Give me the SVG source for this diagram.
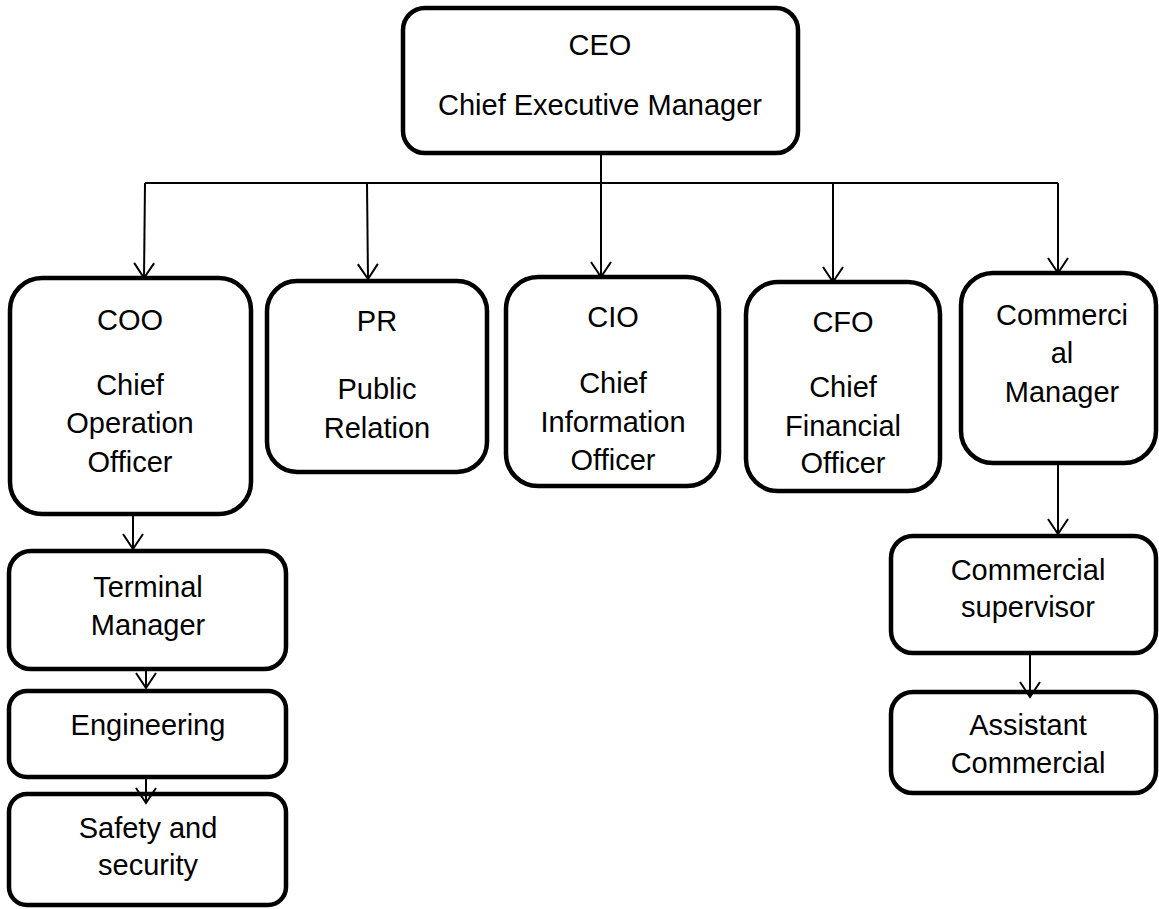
<svg xmlns="http://www.w3.org/2000/svg" width="1159" height="909" viewBox="0 0 1159 909">
<style>
.box{fill:#fff;stroke:#000;stroke-width:4.5}
.t{font-family:"Liberation Sans",Arial,sans-serif;font-size:29px;fill:#000;text-anchor:middle}
.c{fill:none;stroke:#000;stroke-width:2}
</style>
<defs>
<marker id="arr" markerUnits="userSpaceOnUse" markerWidth="30" markerHeight="30" viewBox="-20 -15 30 30" refX="0" refY="0" orient="auto" overflow="visible">
<path d="M-15,-10 L0,0 L-15,10" fill="none" stroke="#000" stroke-width="2"/>
</marker>
</defs>
<rect width="1159" height="909" fill="#fff"/>
<g id="ceo">
<rect class="box" x="403" y="8" width="395" height="145" rx="22"/>
<text class="t" x="600" y="55">CEO</text>
<text class="t" x="600" y="115">Chief Executive Manager</text>
</g>
<g id="coo">
<rect class="box" x="10" y="278" width="241" height="236" rx="32"/>
<text class="t" x="130" y="330">COO</text>
<text class="t" x="130" y="395">Chief</text>
<text class="t" x="130" y="433">Operation</text>
<text class="t" x="130" y="472">Officer</text>
</g>
<g id="pr">
<rect class="box" x="267" y="281" width="220" height="191" rx="30"/>
<text class="t" x="377" y="331">PR</text>
<text class="t" x="377" y="399">Public</text>
<text class="t" x="377" y="438">Relation</text>
</g>
<g id="cio">
<rect class="box" x="506" y="277" width="213" height="209" rx="32"/>
<text class="t" x="613" y="327">CIO</text>
<text class="t" x="613" y="393">Chief</text>
<text class="t" x="613" y="432">Information</text>
<text class="t" x="613" y="470">Officer</text>
</g>
<g id="cfo">
<rect class="box" x="746" y="282" width="194" height="209" rx="32"/>
<text class="t" x="843" y="332">CFO</text>
<text class="t" x="843" y="397">Chief</text>
<text class="t" x="843" y="436">Financial</text>
<text class="t" x="843" y="473">Officer</text>
</g>
<g id="commercial-manager">
<rect class="box" x="961" y="273" width="195" height="190" rx="32"/>
<text class="t" x="1062" y="325">Commerci</text>
<text class="t" x="1062" y="363">al</text>
<text class="t" x="1062" y="402">Manager</text>
</g>
<g id="terminal-manager">
<rect class="box" x="9" y="551" width="277" height="118" rx="22"/>
<text class="t" x="148" y="597">Terminal</text>
<text class="t" x="148" y="635">Manager</text>
</g>
<g id="engineering">
<rect class="box" x="9" y="691" width="277" height="86" rx="18"/>
<text class="t" x="148" y="735">Engineering</text>
</g>
<g id="safety">
<rect class="box" x="9" y="794" width="277" height="111" rx="18"/>
<text class="t" x="148" y="838">Safety and</text>
<text class="t" x="148" y="875">security</text>
</g>
<g id="commercial-supervisor">
<rect class="box" x="891" y="536" width="265" height="117" rx="22"/>
<text class="t" x="1028" y="580">Commercial</text>
<text class="t" x="1028" y="617">supervisor</text>
</g>
<g id="assistant-commercial">
<rect class="box" x="891" y="692" width="265" height="101" rx="22"/>
<text class="t" x="1028" y="735">Assistant</text>
<text class="t" x="1028" y="773">Commercial</text>
</g>
<g id="connectors">
<path class="c" d="M145,183 H1058"/>
<path class="c" d="M601,155 V183"/>
<path class="c" d="M145,183 L144,278" marker-end="url(#arr)"/>
<path class="c" d="M367,183 L368,279" marker-end="url(#arr)"/>
<path class="c" d="M601,183 V277" marker-end="url(#arr)"/>
<path class="c" d="M833,183 V282" marker-end="url(#arr)"/>
<path class="c" d="M1058,183 V273" marker-end="url(#arr)"/>
<path class="c" d="M133,516 V549" marker-end="url(#arr)"/>
<path class="c" d="M146,671 V688" marker-end="url(#arr)"/>
<path class="c" d="M146,779 V803" marker-end="url(#arr)"/>
<path class="c" d="M1058,465 V534" marker-end="url(#arr)"/>
<path class="c" d="M1030,655 V697" marker-end="url(#arr)"/>
</g>
</svg>
